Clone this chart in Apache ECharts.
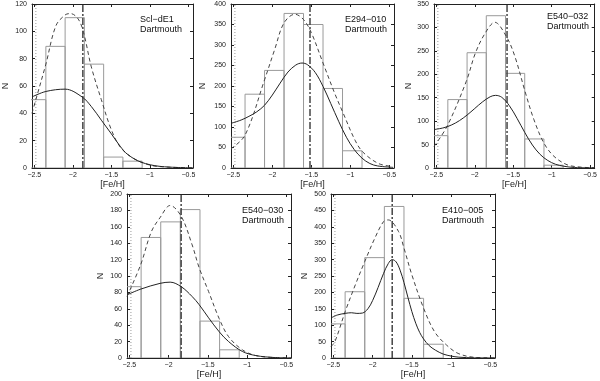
<!DOCTYPE html>
<html>
<head>
<meta charset="utf-8">
<script src="https://cdn.jsdelivr.net/npm/echarts@6/dist/echarts.min.js"></script>
<style>
  html, body { margin: 0; padding: 0; background: #fff; }
  #chart { width: 600px; height: 381px; }
</style>
</head>
<body>
<div id="chart"></div>
<script>
"use strict";

// histogram bins (left edges), width 0.25 dex
var binStart = [-2.6, -2.35, -2.1, -1.85, -1.6, -1.35, -1.1];
var BIN_W = 0.25;
var xTicks = [-2.5, -2, -1.5, -1, -0.5];

// Scl-dE1
var sclCounts = [50, 89, 110, 76, 8, 5];
var sclDashed = [[-2.53,40],[-2.48,50],[-2.35,76],[-2.22,104],[-2.1,112],[-2.03,113],[-1.93,109],[-1.86,99],[-1.76,74],[-1.63,50],[-1.5,28],[-1.38,15],[-1.21,7],[-0.99,2],[-0.78,0.7],[-0.44,0.1]];
var sclSolid = [[-2.53,52],[-2.35,56],[-2.1,57.7],[-1.88,52],[-1.76,45],[-1.63,35],[-1.5,25],[-1.38,15.5],[-1.29,10],[-1.12,4.4],[-0.87,1.2],[-0.44,0.1]];
var sclMean = -1.87;

// E294-010
var e294Counts = [75, 180, 238, 377, 350, 194, 42];
var e294Dashed = [[-2.53,47],[-2.35,80],[-2.1,215],[-1.97,289],[-1.85,354],[-1.71,375],[-1.6,362],[-1.5,330],[-1.35,256],[-1.2,182],[-1.09,133],[-0.94,68],[-0.84,39],[-0.64,11],[-0.47,4]];
var e294Solid = [[-2.53,109],[-2.4,117],[-2.3,126],[-2.2,137],[-2.1,153],[-2.0,178],[-1.9,207],[-1.8,234],[-1.7,251],[-1.62,256],[-1.55,252],[-1.45,233],[-1.35,199],[-1.25,157],[-1.15,114],[-1.05,75],[-0.95,45],[-0.85,24],[-0.75,11],[-0.65,5],[-0.45,1.5]];
var e294Mean = -1.517;

// E540-032
var e032Counts = [69, 146, 246, 325, 202, 62, 6];
var e032Dashed = [[-2.53,46],[-2.36,89],[-2.11,185],[-1.99,246],[-1.86,289],[-1.74,311],[-1.59,281],[-1.48,239],[-1.34,160],[-1.23,103],[-1.1,53],[-0.97,25],[-0.8,7],[-0.63,2],[-0.44,0.5]];
var e032Solid = [[-2.53,82],[-2.4,86],[-2.3,92],[-2.2,101],[-2.1,113],[-2.0,127],[-1.9,141],[-1.8,152],[-1.73,155],[-1.65,151],[-1.55,133],[-1.45,106],[-1.35,76],[-1.25,49],[-1.15,29],[-1.05,16],[-0.95,8],[-0.85,4],[-0.7,1],[-0.44,0.2]];
var e032Mean = -1.58;

// E540-030
var e030Counts = [87, 147, 166, 181, 45, 10];
var e030Dashed = [[-2.53,75],[-2.355,114],[-2.22,154],[-2.11,171],[-1.98,186],[-1.84,173],[-1.7,138],[-1.61,110],[-1.49,81],[-1.355,48],[-1.235,26],[-1.06,10],[-0.89,3],[-0.64,0.5],[-0.44,0.1]];
var e030Solid = [[-2.53,77],[-2.355,84],[-2.11,91],[-1.98,92.5],[-1.84,87],[-1.7,75],[-1.61,65],[-1.49,49],[-1.355,32],[-1.235,20],[-1.06,8],[-0.89,3],[-0.64,0.5],[-0.44,0.1]];
var e030Mean = -1.84;

// E410-005
var e410Counts = [104, 202, 306, 462, 182, 42];
var e410Dashed = [[-2.53,35],[-2.48,50],[-2.35,141],[-2.22,223],[-2.1,294],[-1.97,366],[-1.86,416],[-1.8,421],[-1.67,386],[-1.6,335],[-1.5,254],[-1.35,152],[-1.21,80],[-1.06,40],[-0.91,14],[-0.7,2],[-0.44,0.2]];
var e410Solid = [[-2.53,122],[-2.45,131],[-2.35,136],[-2.27,138],[-2.2,136],[-2.13,137],[-2.06,150],[-2.0,175],[-1.93,215],[-1.86,258],[-1.8,288],[-1.75,300],[-1.7,293],[-1.65,268],[-1.6,230],[-1.55,185],[-1.5,142],[-1.45,106],[-1.4,78],[-1.35,58],[-1.28,38],[-1.2,24],[-1.1,12],[-1.0,6],[-0.9,2.5],[-0.7,0.5],[-0.44,0.1]];
var e410Mean = -1.75;

var LOW_LIMIT = -2.48;

var panels = [
	{ name: 'Scl\u2212dE1', counts: sclCounts, dashed: sclDashed, solid: sclSolid, mean: sclMean, ymax: 120, step: 20,
	  left: 29, top: 4, width: 164, height: 164, nameGap: 22, tx: 140, ty: 20 },
	{ name: 'E294\u2212010', counts: e294Counts, dashed: e294Dashed, solid: e294Solid, mean: e294Mean, ymax: 400, step: 50,
	  left: 231, top: 4, width: 163, height: 164, nameGap: 24, tx: 345, ty: 20 },
	{ name: 'E540\u2212032', counts: e032Counts, dashed: e032Dashed, solid: e032Solid, mean: e032Mean, ymax: 350, step: 50,
	  left: 434, top: 4, width: 163, height: 164, nameGap: 19, tx: 547, ty: 17 },
	{ name: 'E540\u2212030', counts: e030Counts, dashed: e030Dashed, solid: e030Solid, mean: e030Mean, ymax: 200, step: 20,
	  left: 127, top: 194, width: 164, height: 164, nameGap: 22, tx: 242, ty: 211 },
	{ name: 'E410\u2212005', counts: e410Counts, dashed: e410Dashed, solid: e410Solid, mean: e410Mean, ymax: 500, step: 50,
	  left: 331, top: 194, width: 164, height: 164, nameGap: 22, tx: 442, ty: 211 }
];

var FONT = 'Liberation Sans, Arial, sans-serif';
var AXIS_COLOR = '#222';

function fmtMinus(v) {
	return String(v).replace('-', '\u2212');
}

var grids = [], xAxes = [], yAxes = [], series = [], graphics = [];

panels.forEach(function(p, i) {
	grids.push({ left: p.left, top: p.top, width: p.width, height: p.height, show: false });

	var xBase = {
		type: 'value', gridIndex: i, min: -2.53, max: -0.44,
		splitLine: { show: false },
		axisLine: { show: true, onZero: false, lineStyle: { color: AXIS_COLOR, width: 1 } },
		axisTick: { show: true, inside: true, length: 3, customValues: xTicks, lineStyle: { color: AXIS_COLOR } }
	};
	xAxes.push(Object.assign({}, xBase, {
		position: 'bottom',
		axisLabel: { show: true, customValues: xTicks, fontSize: 7, margin: 4, color: AXIS_COLOR, fontFamily: FONT, formatter: fmtMinus },
		name: '[Fe/H]', nameLocation: 'middle', nameGap: 12,
		nameTextStyle: { fontSize: 9, color: AXIS_COLOR, fontFamily: FONT }
	}));
	xAxes.push(Object.assign({}, xBase, {
		position: 'top',
		axisLabel: { show: false }
	}));

	var yBase = {
		type: 'value', gridIndex: i, min: 0, max: p.ymax, interval: p.step,
		splitLine: { show: false },
		axisLine: { show: true, onZero: false, lineStyle: { color: AXIS_COLOR, width: 1 } },
		axisTick: { show: true, inside: true, length: 3, lineStyle: { color: AXIS_COLOR } }
	};
	yAxes.push(Object.assign({}, yBase, {
		position: 'left',
		axisLabel: { show: true, fontSize: 7, margin: 5, color: AXIS_COLOR, fontFamily: FONT },
		name: 'N', nameLocation: 'middle', nameGap: p.nameGap, nameRotate: 90,
		nameTextStyle: { fontSize: 9, color: AXIS_COLOR, fontFamily: FONT }
	}));
	yAxes.push(Object.assign({}, yBase, {
		position: 'right',
		axisLabel: { show: false }
	}));

	var histData = p.counts.map(function(c, k) {
		return [binStart[k], binStart[k] + BIN_W, c];
	});

	series.push({
		type: 'custom', xAxisIndex: 2 * i, yAxisIndex: 2 * i, clip: true, z: 1,
		data: histData,
		renderItem: function(params, api) {
			var p0 = api.coord([api.value(0), 0]);
			var p1 = api.coord([api.value(1), api.value(2)]);
			return {
				type: 'rect',
				shape: { x: p0[0], y: p1[1], width: p1[0] - p0[0], height: p0[1] - p1[1] },
				style: { fill: 'none', stroke: '#9a9a9a', lineWidth: 1 }
			};
		}
	});

	series.push({
		type: 'line', xAxisIndex: 2 * i, yAxisIndex: 2 * i, clip: true, z: 3,
		data: [[LOW_LIMIT, 0], [LOW_LIMIT, p.ymax]],
		showSymbol: false, silent: true,
		lineStyle: { type: [1, 2], color: '#9a9a9a', width: 1 }
	});

	series.push({
		type: 'line', xAxisIndex: 2 * i, yAxisIndex: 2 * i, clip: true, z: 4,
		data: [[p.mean, 0], [p.mean, p.ymax]],
		showSymbol: false, silent: true,
		lineStyle: { type: [7, 2, 2, 2], color: '#444', width: 1.5 }
	});

	series.push({
		type: 'line', xAxisIndex: 2 * i, yAxisIndex: 2 * i, clip: true, z: 5,
		data: p.dashed, smooth: 0.35, showSymbol: false, silent: true,
		lineStyle: { type: [4, 3], color: '#444', width: 1 }
	});

	series.push({
		type: 'line', xAxisIndex: 2 * i, yAxisIndex: 2 * i, clip: true, z: 5,
		data: p.solid, smooth: 0.35, showSymbol: false, silent: true,
		lineStyle: { color: '#222', width: 1 }
	});

	graphics.push({
		type: 'text', x: p.tx, y: p.ty,
		style: { text: p.name, font: '9px ' + FONT, fill: '#111', verticalAlign: 'middle' }
	});
	graphics.push({
		type: 'text', x: p.tx, y: p.ty + 9.5,
		style: { text: 'Dartmouth', font: '9px ' + FONT, fill: '#111', verticalAlign: 'middle' }
	});
});

var chart = echarts.init(document.getElementById('chart'), null, { renderer: 'canvas' });
chart.setOption({
	animation: false,
	backgroundColor: '#fff',
	grid: grids,
	xAxis: xAxes,
	yAxis: yAxes,
	series: series,
	graphic: graphics
});
</script>
</body>
</html>
